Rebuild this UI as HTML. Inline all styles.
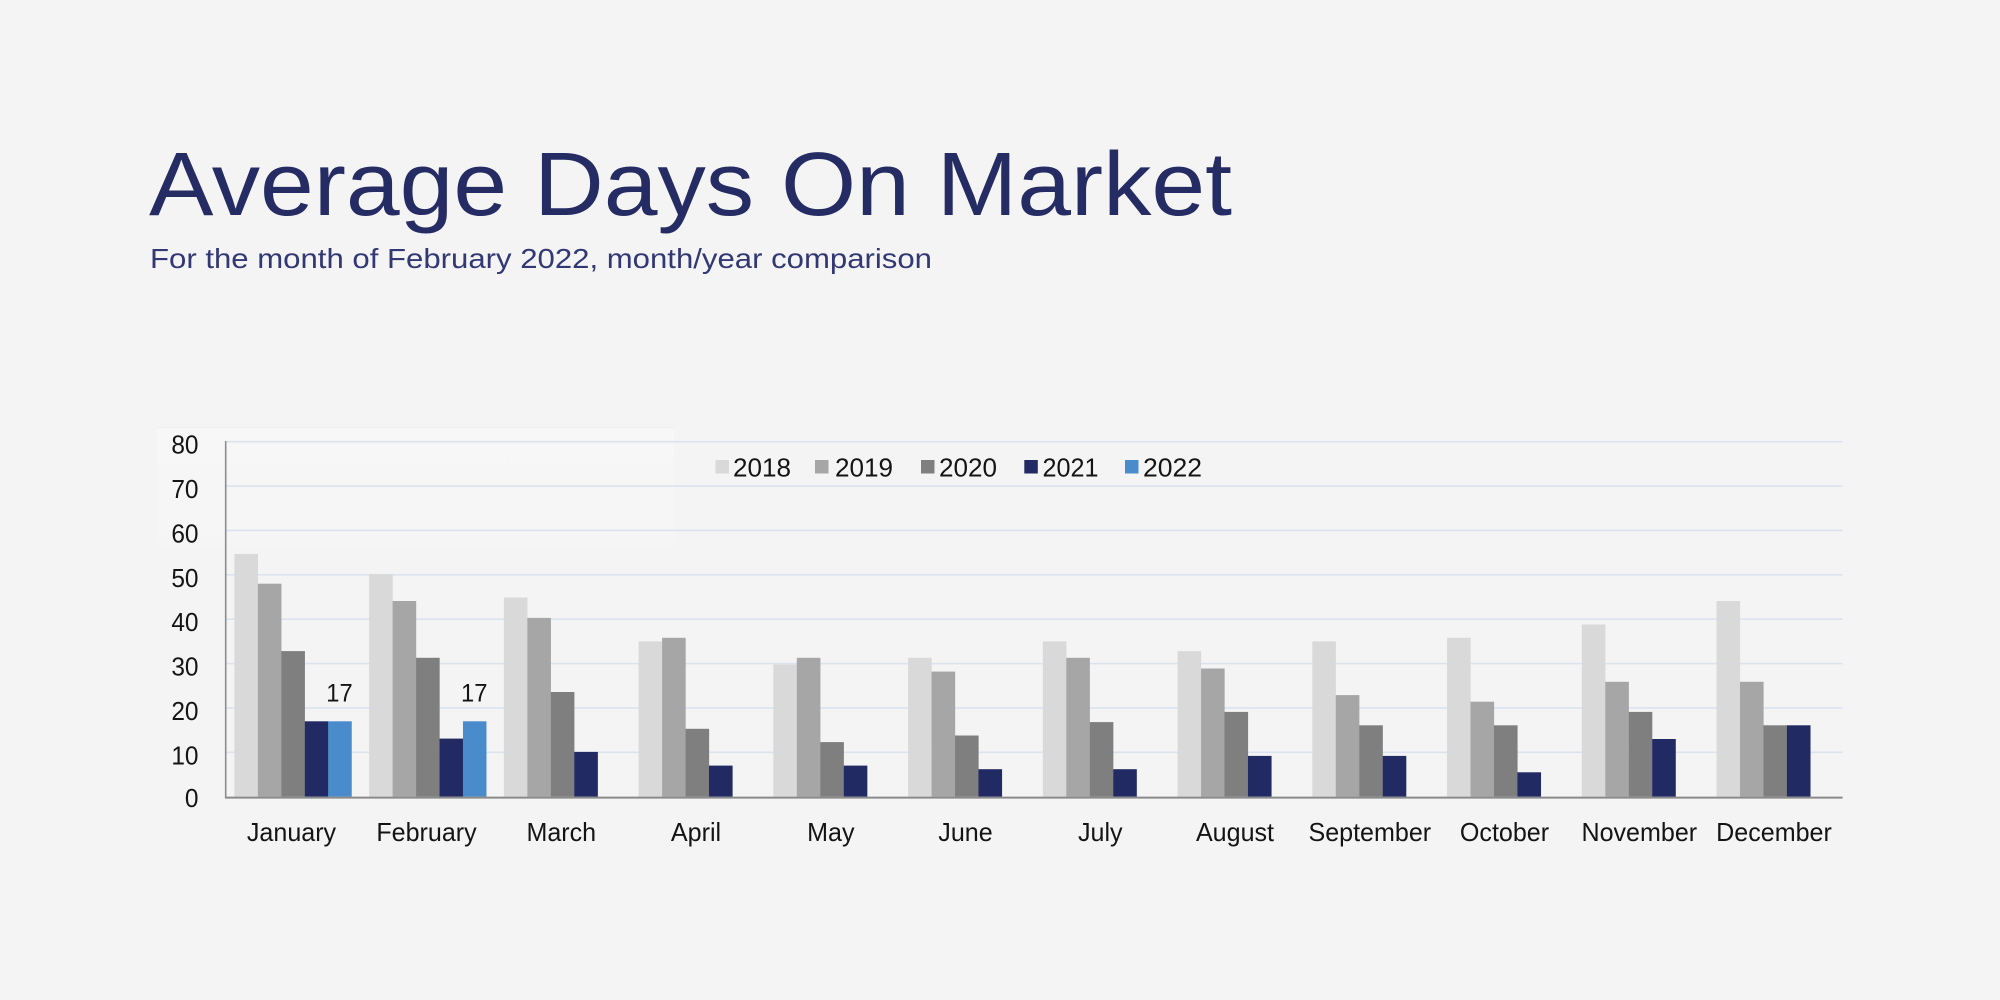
<!DOCTYPE html>
<html>
<head>
<meta charset="utf-8">
<style>
html,body{margin:0;padding:0;background:#f4f4f4;}
svg{display:block;}
text{font-family:"Liberation Sans",Arial,Helvetica,sans-serif;}
</style>
</head>
<body>
<svg width="2000" height="1000" viewBox="0 0 2000 1000" xmlns="http://www.w3.org/2000/svg">
<defs>
<linearGradient id="boxg" x1="0" y1="0" x2="0" y2="1">
<stop offset="0" stop-color="#f7f7f7"/>
<stop offset="0.7" stop-color="#f6f6f6"/>
<stop offset="1" stop-color="#f4f4f4"/>
</linearGradient>
</defs>
<rect x="0" y="0" width="2000" height="1000" fill="#f4f4f4"/>

<!-- Title -->
<text x="149" y="215" font-size="90" fill="#252c63" textLength="1083" lengthAdjust="spacingAndGlyphs">Average Days On Market</text>
<text x="150" y="268" font-size="28" fill="#323873" textLength="782" lengthAdjust="spacingAndGlyphs">For the month of February 2022, month/year comparison</text>

<!-- faint box behind top-left -->
<rect x="157" y="427" width="517" height="135" fill="url(#boxg)"/>
<line x1="157" y1="427.5" x2="674" y2="427.5" stroke="#eeeeee" stroke-width="1"/>

<!-- gridlines -->
<g stroke="#dce2ee" stroke-width="1.6">
<line x1="225.7" y1="441.7" x2="1842.6" y2="441.7"/>
<line x1="225.7" y1="486.1" x2="1842.6" y2="486.1"/>
<line x1="225.7" y1="530.45" x2="1842.6" y2="530.45"/>
<line x1="225.7" y1="574.8" x2="1842.6" y2="574.8"/>
<line x1="225.7" y1="619.2" x2="1842.6" y2="619.2"/>
<line x1="225.7" y1="663.6" x2="1842.6" y2="663.6"/>
<line x1="225.7" y1="707.95" x2="1842.6" y2="707.95"/>
<line x1="225.7" y1="752.3" x2="1842.6" y2="752.3"/>
</g>

<!-- 2018 -->
<g fill="#d9d9d9">
<rect x="234.4" y="554.0" width="23.6" height="242.7"/>
<rect x="369.14" y="573.9" width="23.6" height="222.8"/>
<rect x="503.88" y="597.5" width="23.6" height="199.2"/>
<rect x="638.62" y="641.4" width="23.6" height="155.3"/>
<rect x="773.36" y="664.5" width="23.6" height="132.2"/>
<rect x="908.10" y="657.8" width="23.6" height="138.9"/>
<rect x="1042.84" y="641.4" width="23.6" height="155.3"/>
<rect x="1177.58" y="651.1" width="23.6" height="145.6"/>
<rect x="1312.32" y="641.4" width="23.6" height="155.3"/>
<rect x="1447.06" y="637.8" width="23.6" height="158.9"/>
<rect x="1581.80" y="624.5" width="23.6" height="172.2"/>
<rect x="1716.54" y="601.0" width="23.6" height="195.7"/>
</g>
<!-- 2019 -->
<g fill="#a6a6a6">
<rect x="257.86" y="583.7" width="23.6" height="213.0"/>
<rect x="392.60" y="601.0" width="23.6" height="195.7"/>
<rect x="527.34" y="617.9" width="23.6" height="178.8"/>
<rect x="662.08" y="637.8" width="23.6" height="158.9"/>
<rect x="796.82" y="657.8" width="23.6" height="138.9"/>
<rect x="931.56" y="671.6" width="23.6" height="125.1"/>
<rect x="1066.30" y="657.8" width="23.6" height="138.9"/>
<rect x="1201.04" y="668.5" width="23.6" height="128.2"/>
<rect x="1335.78" y="695.1" width="23.6" height="101.6"/>
<rect x="1470.52" y="701.7" width="23.6" height="95.0"/>
<rect x="1605.26" y="681.8" width="23.6" height="114.9"/>
<rect x="1740.00" y="681.8" width="23.6" height="114.9"/>
</g>
<!-- 2020 -->
<g fill="#7f7f7f">
<rect x="281.32" y="651.1" width="23.6" height="145.6"/>
<rect x="416.06" y="657.8" width="23.6" height="138.9"/>
<rect x="550.80" y="692.0" width="23.6" height="104.7"/>
<rect x="685.54" y="728.8" width="23.6" height="67.9"/>
<rect x="820.28" y="742.1" width="23.6" height="54.6"/>
<rect x="955.02" y="735.5" width="23.6" height="61.2"/>
<rect x="1089.76" y="722.1" width="23.6" height="74.6"/>
<rect x="1224.50" y="711.9" width="23.6" height="84.8"/>
<rect x="1359.24" y="725.3" width="23.6" height="71.4"/>
<rect x="1493.98" y="725.3" width="23.6" height="71.4"/>
<rect x="1628.72" y="711.9" width="23.6" height="84.8"/>
<rect x="1763.46" y="725.3" width="23.6" height="71.4"/>
</g>
<!-- 2021 -->
<g fill="#222a63">
<rect x="304.78" y="721.3" width="23.6" height="75.4"/>
<rect x="439.52" y="738.6" width="23.6" height="58.1"/>
<rect x="574.26" y="751.9" width="23.6" height="44.8"/>
<rect x="709.00" y="765.6" width="23.6" height="31.1"/>
<rect x="843.74" y="765.6" width="23.6" height="31.1"/>
<rect x="978.48" y="769.2" width="23.6" height="27.5"/>
<rect x="1113.22" y="769.2" width="23.6" height="27.5"/>
<rect x="1247.96" y="755.9" width="23.6" height="40.8"/>
<rect x="1382.70" y="755.9" width="23.6" height="40.8"/>
<rect x="1517.44" y="772.3" width="23.6" height="24.4"/>
<rect x="1652.18" y="739.0" width="23.6" height="57.7"/>
<rect x="1786.92" y="725.3" width="23.6" height="71.4"/>
</g>
<!-- 2022 -->
<g fill="#4a8ccb">
<rect x="328.24" y="721.3" width="23.5" height="75.4"/>
<rect x="462.98" y="721.3" width="23.5" height="75.4"/>
</g>

<!-- axes -->
<line x1="225.7" y1="441" x2="225.7" y2="798" stroke="#8c8c8c" stroke-width="1.6"/>
<line x1="225" y1="797.6" x2="1842.6" y2="797.6" stroke="#8a8a8a" stroke-width="2"/>

<!-- y labels -->
<g font-size="26" fill="#141414" text-anchor="end">
<text transform="translate(198.5,453.7) scale(0.94,1)">80</text>
<text transform="translate(198.5,498.1) scale(0.94,1)">70</text>
<text transform="translate(198.5,542.5) scale(0.94,1)">60</text>
<text transform="translate(198.5,586.8) scale(0.94,1)">50</text>
<text transform="translate(198.5,631.2) scale(0.94,1)">40</text>
<text transform="translate(198.5,675.6) scale(0.94,1)">30</text>
<text transform="translate(198.5,720.0) scale(0.94,1)">20</text>
<text transform="translate(198.5,764.3) scale(0.94,1)">10</text>
<text transform="translate(198.5,807.0) scale(0.94,1)">0</text>
</g>

<!-- data labels -->
<g font-size="25" fill="#141414" text-anchor="middle">
<text transform="translate(339.5,701.5) scale(0.95,1)">17</text>
<text transform="translate(474.2,701.5) scale(0.95,1)">17</text>
</g>

<!-- x labels -->
<g font-size="26" fill="#141414" text-anchor="middle">
<text transform="translate(291.5,841) scale(0.965,1)">January</text>
<text transform="translate(426.5,841) scale(0.965,1)">February</text>
<text transform="translate(561.3,841) scale(0.965,1)">March</text>
<text transform="translate(696,841) scale(0.965,1)">April</text>
<text transform="translate(830.8,841) scale(0.965,1)">May</text>
<text transform="translate(965.5,841) scale(0.965,1)">June</text>
<text transform="translate(1100.3,841) scale(0.965,1)">July</text>
<text transform="translate(1235,841) scale(0.965,1)">August</text>
<text transform="translate(1369.8,841) scale(0.965,1)">September</text>
<text transform="translate(1504.5,841) scale(0.965,1)">October</text>
<text transform="translate(1639.3,841) scale(0.965,1)">November</text>
<text transform="translate(1774,841) scale(0.965,1)">December</text>
</g>

<!-- legend -->
<rect x="715.5" y="460" width="13.5" height="13.5" fill="#d9d9d9"/>
<rect x="815" y="460" width="13.5" height="13.5" fill="#a6a6a6"/>
<rect x="921" y="460" width="13.5" height="13.5" fill="#7f7f7f"/>
<rect x="1024.3" y="460" width="13.5" height="13.5" fill="#222a63"/>
<rect x="1125" y="460" width="13.5" height="13.5" fill="#4a8ccb"/>
<g font-size="26" fill="#141414">
<text x="733" y="476.7" textLength="58" lengthAdjust="spacingAndGlyphs">2018</text>
<text x="835" y="476.7" textLength="58" lengthAdjust="spacingAndGlyphs">2019</text>
<text x="939" y="476.7" textLength="58" lengthAdjust="spacingAndGlyphs">2020</text>
<text x="1042.5" y="476.7" textLength="56" lengthAdjust="spacingAndGlyphs">2021</text>
<text x="1143" y="476.7" textLength="59" lengthAdjust="spacingAndGlyphs">2022</text>
</g>
</svg>
</body>
</html>
